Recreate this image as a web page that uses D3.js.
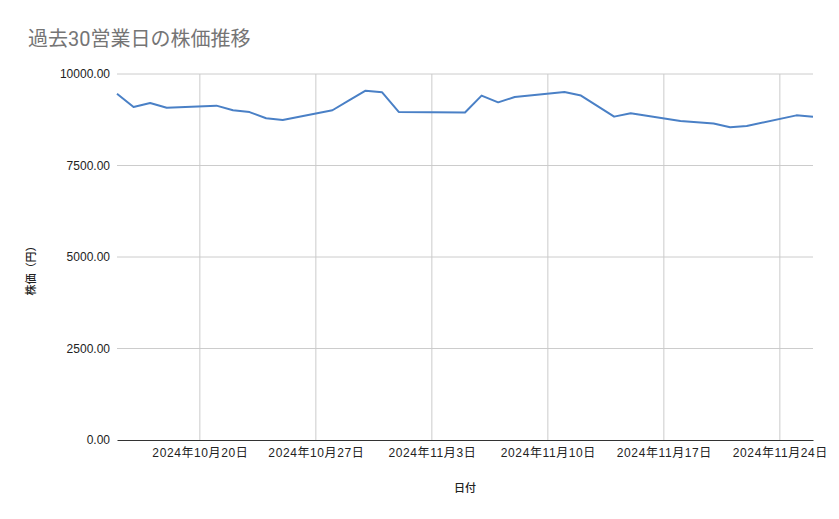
<!DOCTYPE html>
<html>
<head>
<meta charset="utf-8">
<script src="https://cdn.jsdelivr.net/npm/d3@7"></script>
<style>
  body { margin: 0; background: #fff; }
  text { font-family: "Liberation Sans", Arial, "Noto Sans CJK JP", sans-serif; }
</style>
</head>
<body>
<div id="chart"></div>
<script>
const dates = ["2024-10-15","2024-10-16","2024-10-17","2024-10-18",
  "2024-10-21","2024-10-22","2024-10-23","2024-10-24","2024-10-25",
  "2024-10-28","2024-10-29","2024-10-30","2024-10-31","2024-11-01",
  "2024-11-05","2024-11-06","2024-11-07","2024-11-08",
  "2024-11-11","2024-11-12","2024-11-13","2024-11-14","2024-11-15",
  "2024-11-18","2024-11-19","2024-11-20","2024-11-21","2024-11-22",
  "2024-11-25","2024-11-26"];
const prices = [9460, 9100, 9210, 9080,
  9135, 9010, 8960, 8790, 8745,
  9010, 9280, 9545, 9500, 8965,
  8950, 9410, 9225, 9370,
  9510, 9410, 9120, 8835, 8925,
  8715, 8680, 8645, 8545, 8580,
  8870, 8835];
const tickDates = ["2024-10-20","2024-10-27","2024-11-03","2024-11-10","2024-11-17","2024-11-24"];
const yTicks = [0, 2500, 5000, 7500, 10000];

const W = 839, H = 519;
const margin = {top: 74, right: 26, bottom: 79, left: 117};
const width = W - margin.left - margin.right,
      height = H - margin.top - margin.bottom;

const parse = d3.timeParse("%Y-%m-%d");
const data = dates.map((d, i) => ({date: parse(d), value: prices[i]}));

const svgRoot = d3.select("#chart").append("svg")
  .attr("width", W).attr("height", H);

svgRoot.append("text")
  .attr("x", 28).attr("y", 46)
  .attr("fill", "#757575")
  .style("font-family", "Roboto, 'Noto Sans CJK JP', sans-serif")
  .style("font-size", "20px")
  .text("過去30営業日の株価推移");

const svg = svgRoot.append("g")
  .attr("transform", `translate(${margin.left},${margin.top})`);

const x = d3.scaleTime()
  .domain(d3.extent(data, d => d.date))
  .range([0, width]);
const y = d3.scaleLinear().domain([0, 10000]).range([height, 0]);

// gridlines
svg.append("g")
  .selectAll("line").data(yTicks.filter(t => t > 0)).join("line")
  .attr("x1", 0).attr("x2", width)
  .attr("y1", d => y(d)).attr("y2", d => y(d))
  .attr("stroke", "#cccccc").attr("stroke-width", 1);

svg.append("g")
  .selectAll("line").data(tickDates.map(parse)).join("line")
  .attr("x1", d => x(d)).attr("x2", d => x(d))
  .attr("y1", 0).attr("y2", height)
  .attr("stroke", "#cccccc").attr("stroke-width", 1);

// y axis labels
const yAxis = svg.append("g")
  .call(d3.axisLeft(y).tickValues(yTicks).tickFormat(d3.format(".2f")).tickSize(0).tickPadding(7));
yAxis.select(".domain").remove();
yAxis.selectAll("text").attr("fill", "#222").style("font-size", "12px");

// x axis
const xAxis = svg.append("g")
  .attr("transform", `translate(0,${height})`)
  .call(d3.axisBottom(x).tickValues(tickDates.map(parse))
    .tickFormat(d3.timeFormat("%Y年%-m月%-d日")).tickSize(0).tickPadding(8));
xAxis.select(".domain").attr("stroke", "#333").attr("stroke-width", 1);
xAxis.selectAll("text").attr("fill", "#222")
  .style("font-size", "12px").style("letter-spacing", "0.6px");

// line
svg.append("path")
  .datum(data)
  .attr("fill", "none")
  .attr("stroke", "#4a80c6")
  .attr("stroke-width", 2)
  .attr("stroke-linejoin", "round")
  .attr("d", d3.line().x(d => x(d.date)).y(d => y(d.value)));

// axis titles
svgRoot.append("text")
  .attr("x", 465).attr("y", 492)
  .attr("text-anchor", "middle")
  .attr("fill", "#222")
  .style("font-family", "'Noto Sans CJK JP', sans-serif")
  .style("font-size", "11px").style("font-weight", "500")
  .text("日付");

svgRoot.append("text")
  .attr("transform", "translate(35,268) rotate(-90)")
  .attr("text-anchor", "middle")
  .attr("fill", "#222")
  .style("font-family", "'Noto Sans CJK JP', sans-serif")
  .style("font-size", "11px").style("font-weight", "500")
  .text("株価（円）");
</script>
</body>
</html>
